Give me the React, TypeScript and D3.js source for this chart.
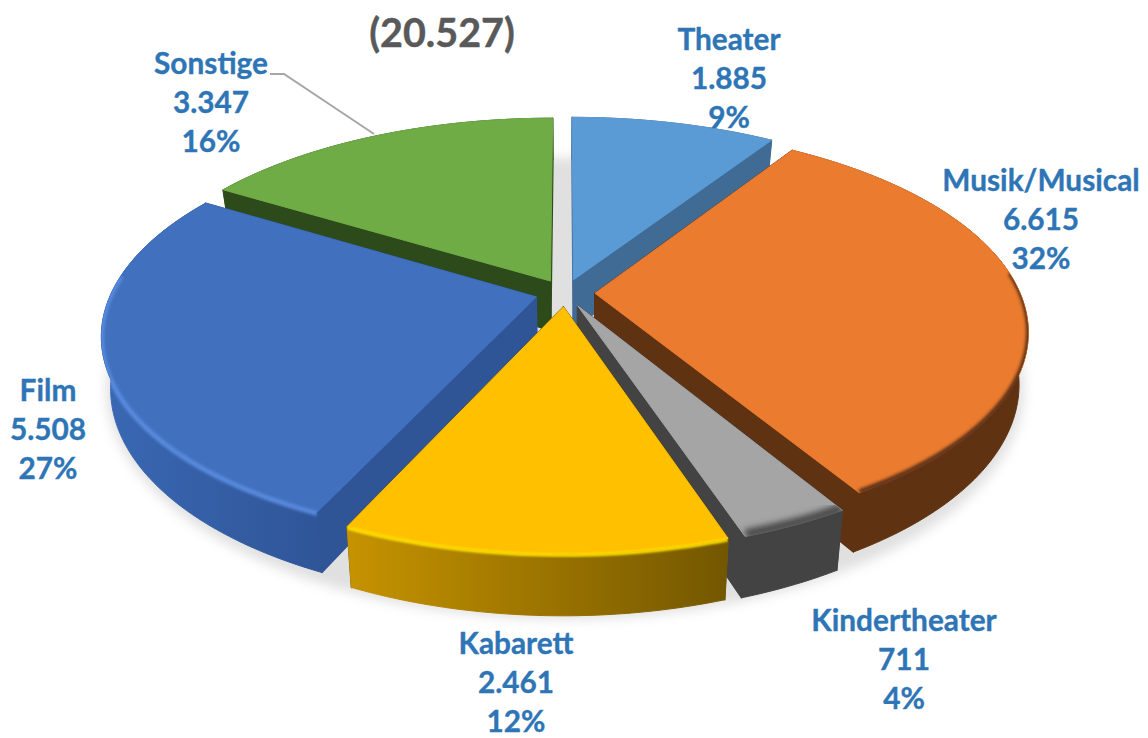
import React from "react";
import * as d3 from "d3";

const categories = ["Theater", "Musik/Musical", "Kindertheater", "Kabarett", "Film", "Sonstige"];
const values = [1885, 6615, 711, 2461, 5508, 3347];
const valueLabels = ["1.885", "6.615", "711", "2.461", "5.508", "3.347"];
const percentLabels = ["9%", "32%", "4%", "12%", "27%", "16%"];
const totalLabel = "(20.527)";

const topColors = ["#5b9bd5", "#ea7b2f", "#a5a5a5", "#ffc000", "#4170be", "#6fac46"];
const wallStart = ["#3f6b95", "#5f3212", "#434343", "#c69300", "#3a68b4", "#2d4a1a"];
const wallEnd = ["#3f6b95", "#5f3212", "#434343", "#735700", "#2f5597", "#2d4a1a"];
const radialWall = ["#3f6b95", "#5f3212", "#434343", "#735700", "#2f5597", "#2d4a1a"];
// painter's order: back to front
const drawOrder = [5, 0, 1, 4, 2, 3];
const rims: ({ color: string; w: number; blur: number; z: number } | null)[] = [
  null,
  { color: "#5f3212", w: 5, blur: 1.6, z: -1 },
  { color: "#434343", w: 9, blur: 3, z: -2 },
  { color: "#ffe000", w: 3.5, blur: 1.2, z: 1 },
  { color: "#5a8ce0", w: 4.5, blur: 1.4, z: 1 },
  null,
];
const labelX = [729, 1041, 904, 516, 48, 211];
const labelY = [50, 191, 631, 654, 401, 74];
const lineGap = 39;

const W = 1148, H = 738;
const cx = 565, cy = 293;
const R = 425, E = 30, H3 = 50;
const K = 0.462, B = 0.194;
const M = 0.98;

type P = [number, number];
const project = (X: number, Y: number, z: number): P => {
  const s = 1 / (1 + (B * Y) / (R + E));
  const m = 1 - (1 - M) * (z / H3);
  return [cx + X * s * m, cy - Y * K * s + z * s];
};

const pie = d3.pie<number>().sort(null).startAngle(0).endAngle(2 * Math.PI);
const arcs = pie(values);
const line = d3.line<P>();

const rimPoint = (mid: number, t: number, z: number, r = R, e = E): P =>
  project(e * Math.sin(mid) + r * Math.sin(t), e * Math.cos(mid) + r * Math.cos(t), z);

const sample = (t0: number, t1: number) => {
  const n = Math.max(6, Math.ceil((t1 - t0) / 0.02));
  return d3.range(n + 1).map((i) => t0 + ((t1 - t0) * i) / n);
};

export default function App() {
  const slices = arcs.map((a, i) => {
    const mid = (a.startAngle + a.endAngle) / 2;
    const ts = sample(a.startAngle, a.endAngle);
    const apex0 = rimPoint(mid, 0, 0, 0);
    const apexH = rimPoint(mid, 0, H3, 0);
    const arc0 = ts.map((t) => rimPoint(mid, t, 0));
    const arcH = ts.map((t) => rimPoint(mid, t, H3));
    const top = line([apex0, ...arc0])! + "Z";
    const outer = line([...arc0, ...[...arcH].reverse()])! + "Z";
    const wallA = line([apex0, arc0[0], arcH[0], apexH])! + "Z";
    const wallB = line([apex0, arc0[arc0.length - 1], arcH[arcH.length - 1], apexH])! + "Z";
    const xs = [...arc0, ...arcH].map((p) => p[0]);
    const rim = rims[i];
    const rimTs = ts.filter((t) => Math.cos(t) < 0.12);
    const rimPath = rim && rimTs.length > 1 ? line(rimTs.map((t) => rimPoint(mid, t, rim.z)))! : null;
    return { i, top, outer, wallA, wallB, x0: d3.min(xs)!, x1: d3.max(xs)!, rim, rimPath };
  });

  const shadow =
    line(sample(0, 2 * Math.PI).map((t) => rimPoint(0, t, H3, R + E + 4, 0)))! + "Z";

  const labelFont = {
    fontFamily: "Lato, 'Open Sans', sans-serif",
    fontWeight: 700,
    fontSize: 29.8,
    stroke: "#2e75b6",
    strokeWidth: 0.35,
  };

  return (
    <svg width={W} height={H} viewBox={`0 0 ${W} ${H}`} style={{ position: "absolute", left: 0, top: 0, background: "#fff" }}>
      <defs>
        <filter id="shadowBlur" x="-20%" y="-20%" width="140%" height="140%">
          <feGaussianBlur stdDeviation="6" />
        </filter>
        {slices.map((s) => (
          <linearGradient key={s.i} id={`wall${s.i}`} gradientUnits="userSpaceOnUse" x1={s.x0} x2={s.x1} y1={0} y2={0}>
            <stop offset="0" stopColor={wallStart[s.i]} />
            <stop offset="1" stopColor={wallEnd[s.i]} />
          </linearGradient>
        ))}
        {slices.map((s) =>
          s.rim ? (
            <filter key={s.i} id={`rimBlur${s.i}`} x="-10%" y="-10%" width="120%" height="120%">
              <feGaussianBlur stdDeviation={s.rim.blur} />
            </filter>
          ) : null
        )}
        {slices.map((s) => (
          <clipPath key={s.i} id={`clip${s.i}`}>
            <path d={s.top} />
            <path d={s.outer} />
          </clipPath>
        ))}
      </defs>

      <path d={shadow} fill="#000" fillOpacity={0.12} filter="url(#shadowBlur)" />

      {drawOrder.map((idx) => {
        const s = slices[idx];
        return (
          <g key={idx}>
            <path d={s.wallA} fill={radialWall[idx]} stroke={radialWall[idx]} strokeWidth={1.5} strokeLinejoin="round" />
            <path d={s.wallB} fill={radialWall[idx]} stroke={radialWall[idx]} strokeWidth={1.5} strokeLinejoin="round" />
            <path d={s.outer} fill={`url(#wall${idx})`} stroke={`url(#wall${idx})`} strokeWidth={1} strokeLinejoin="round" />
            <path d={s.top} fill={topColors[idx]} stroke={topColors[idx]} strokeWidth={1} strokeLinejoin="round" />
            {s.rim && s.rimPath ? (
              <g clipPath={`url(#clip${idx})`}>
                <path d={s.rimPath} fill="none" stroke={s.rim.color} strokeWidth={s.rim.w} filter={`url(#rimBlur${idx})`} />
              </g>
            ) : null}
          </g>
        );
      })}

      <polyline points="270,74 284,74 374,134" fill="none" stroke="#a6a6a6" strokeWidth={2} />

      <text x={442} y={47} textAnchor="middle" fill="#595959" stroke="#595959" strokeWidth={0.4} style={{ fontFamily: "Lato, 'Open Sans', sans-serif", fontWeight: 700, fontSize: 39.5 }}>
        {totalLabel}
      </text>

      {categories.map((c, i) => (
        <text key={c} textAnchor="middle" fill="#2e75b6" style={labelFont}>
          <tspan x={labelX[i]} y={labelY[i]}>{c}</tspan>
          <tspan x={labelX[i]} y={labelY[i] + lineGap}>{valueLabels[i]}</tspan>
          <tspan x={labelX[i]} y={labelY[i] + 2 * lineGap}>{percentLabels[i]}</tspan>
        </text>
      ))}
    </svg>
  );
}
